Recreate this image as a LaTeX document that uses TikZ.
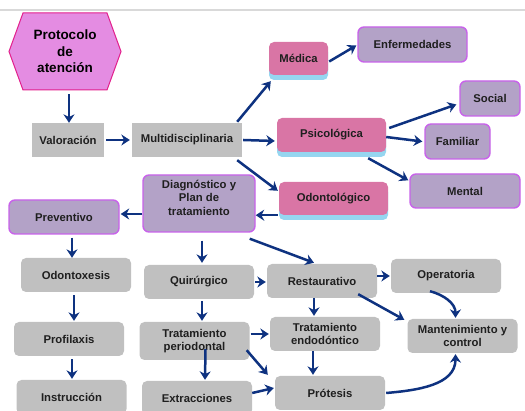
\documentclass[tikz,border=0pt]{standalone}
\usepackage{fontspec}
\setmainfont{Liberation Sans}
\usepackage{tikz}
\usetikzlibrary{arrows.meta, shapes.symbols, shadows}

\definecolor{boxgray}{RGB}{192,192,192}
\definecolor{areapink}{RGB}{217,117,165}
\definecolor{areashadow}{RGB}{150,214,240}
\definecolor{lavfill}{RGB}{179,162,199}
\definecolor{lavdraw}{RGB}{200,98,234}
\definecolor{hexfill}{RGB}{228,140,226}
\definecolor{hexdraw}{RGB}{226,32,140}
\definecolor{flow}{RGB}{14,50,128}

\begin{document}
\begin{tikzpicture}[
    x=1pt, y=-1pt,
    % Node styles
    start/.style={
        signal, signal to=west and east, signal pointer angle=140,
        minimum width=112pt, minimum height=77pt, inner sep=0pt,
        align=center, font=\fontsize{13.5}{16.5}\selectfont\bfseries,
        draw=hexdraw, line width=1pt, fill=hexfill,
    },
    plain/.style={
        rectangle, minimum height=34pt,
        align=center, font=\fontsize{11.3}{13.5}\selectfont\bfseries,
        text=black!88, fill=boxgray,
    },
    step box/.style={
        plain, rounded corners=5pt, minimum width=110pt,
    },
    area/.style={
        rectangle, rounded corners=5pt,
        minimum width=109pt, minimum height=33pt,
        align=center, font=\fontsize{11.3}{13.5}\selectfont\bfseries,
        text=black!88, fill=areapink,
        drop shadow={shadow xshift=0pt, shadow yshift=-5pt,
            fill=areashadow, opacity=1},
    },
    topic/.style={
        rectangle, rounded corners=6pt,
        minimum width=110pt, minimum height=35pt,
        align=center, font=\fontsize{11.3}{13.5}\selectfont\bfseries,
        text=black!88, draw=lavdraw, line width=1.4pt, fill=lavfill,
    },
    line/.style={
        draw=flow, line width=2.5pt, -{Stealth[length=8.5pt, width=11pt]},
    },
]
\useasboundingbox (0,0) rectangle (525,411);
\draw[black!15, line width=1.5pt] (0,10) -- (525,10);

% === Start ===
\node[start] (proto) at (65,51.5) {Protocolo\\de\\atención};

% === Assessment row ===
\node[plain, minimum width=72pt]  (valor) at (68,140)  {Valoración};
\node[plain, minimum width=110pt] (multi) at (187,140) {Multidisciplinaria};

% === Areas ===
\node[area, minimum width=59pt] (medica) at (298.5,58.5) {Médica};
\node[area, minimum height=34pt] (psico) at (331.5,135) {Psicológica};
\node[area] (odonto) at (333.5,198.5) {Odontológico};

% === Topics ===
\node[topic, minimum width=109pt] (enferm)   at (412.5,44.5) {Enfermedades};
\node[topic, minimum width=60pt]  (social)   at (490,98.5)   {Social};
\node[topic, minimum width=65pt]  (familiar) at (457.5,141.5) {Familiar};
\node[topic, minimum height=34pt] (mental)   at (465,191)    {Mental};
\node[topic, minimum width=112pt, minimum height=57pt, text depth=12pt] (diag)
    at (199,203.5) {Diagnóstico y\\Plan de\\tratamiento};
\node[topic, minimum height=34pt] (prevent)  at (64,217)     {Preventivo};

% === Preventive branch ===
\node[step box] (odontox) at (76,275)   {Odontoxesis};
\node[step box] (profil)  at (69,339)   {Profilaxis};
\node[step box] (instr)   at (71.5,397) {Instrucción};

% === Treatment branch ===
\node[step box] (quir)     at (199,282)   {Quirúrgico};
\node[step box, minimum height=38pt] (tperio) at (194.5,341)
    {Tratamiento\\periodontal};
\node[step box] (extrac)   at (197,398)   {Extracciones};
\node[step box] (restaur)  at (322,281)   {Restaurativo};
\node[step box] (operat)   at (446,276)   {Operatoria};
\node[step box] (tendo)    at (325,334)   {Tratamiento\\endodóntico};
\node[step box] (manten)   at (462.5,336) {Mantenimiento y\\control};
\node[step box] (protesis) at (330,393)   {Prótesis};

% === Edges: top ===
\draw[line] ([xshift=4pt, yshift=-4pt]proto.south) -- ([xshift=1pt]valor.north);
\draw[line] ([xshift=2pt]valor.east) -- ([xshift=-2pt]multi.west);
\draw[line] ([xshift=-5pt, yshift=1pt]multi.north east)
    -- ([xshift=2pt, yshift=-6pt]medica.south west);
\draw[line] ([xshift=1pt]multi.east) -- ([yshift=-6pt, xshift=-2pt]psico.west);
\draw[line] ([xshift=-5pt, yshift=-3pt]multi.south east)
    -- ([xshift=-1pt, yshift=-9pt]odonto.north west);
\draw[line] ([xshift=1pt, yshift=-3pt]medica.east) -- ([xshift=-1pt, yshift=-1pt]enferm.west);
\draw[line] ([xshift=3pt, yshift=7pt]psico.east) -- ([xshift=-3pt, yshift=-6pt]social.west);
\draw[line] ([yshift=-2pt]psico.east) -- ([xshift=-2pt]familiar.west);
\draw[line] ([xshift=-18pt, yshift=-6pt]psico.south east)
    -- ([xshift=-1pt, yshift=-7pt]mental.north west);
\draw[line] ([xshift=-1pt]odonto.south west) -- (odonto.south west -| diag.east);
\draw[line] ([yshift=3pt]prevent.east -| diag.west) -- ([xshift=1pt, yshift=3pt]prevent.east);

% === Edges: preventive ===
\draw[line] ([xshift=8pt, yshift=-3pt]prevent.south) -- ([xshift=-4pt]odontox.north);
\draw[line] ([xshift=-2pt, yshift=-3pt]odontox.south) -- ([xshift=5pt, yshift=1pt]profil.north);
\draw[line] ([xshift=3pt, yshift=-3pt]profil.south) -- ([xshift=0.5pt, yshift=1pt]instr.north);

% === Edges: treatment ===
\draw[line] ([xshift=3pt, yshift=-8pt]diag.south) -- ([xshift=3pt, yshift=2pt]quir.north);
\draw[line] ([xshift=-6pt, yshift=-6pt]diag.south east) -- ([xshift=-8pt, yshift=1pt]restaur.north);
\draw[line] ([xshift=1pt]quir.east) -- ([xshift=-1pt]quir.east -| restaur.west);
\draw[line] ([xshift=3pt, yshift=-2pt]quir.south) -- ([xshift=7.5pt, yshift=1pt]tperio.north);
\draw[line] ([yshift=5pt]restaur.east) -- ([xshift=-1pt]operat.west);
\draw[line] ([xshift=-8pt]restaur.south) -- ([xshift=-11pt, yshift=1pt]tendo.north);
\draw[line] ([xshift=-19pt, yshift=4pt]restaur.south east)
    -- ([xshift=-3pt, yshift=-1pt]manten.north west);
\draw[line] ([xshift=-16pt, yshift=2pt]operat.south)
    to[out=-15, in=90] ([xshift=-7pt, yshift=1pt]manten.north);
\draw[line] ([xshift=1pt]tendo.west -| tperio.east) -- ([xshift=-1pt]tendo.west);
\draw[line] ([xshift=-3pt, yshift=10pt]tperio.south east)
    -- ([xshift=-7pt, yshift=1pt]protesis.north west);
\draw[line] ([xshift=11pt, yshift=11pt]tperio.south) -- ([xshift=8pt, yshift=1pt]extrac.north);
\draw[line] ([xshift=-12pt]tendo.south) -- ([xshift=-17pt, yshift=1pt]protesis.north);
\draw[line] ([yshift=5pt]extrac.east) -- ([xshift=-1pt, yshift=5pt]protesis.west);
\draw[line] ([xshift=1pt]protesis.east)
    to[out=5, in=-90] ([xshift=-7pt, yshift=-1pt]manten.south);

\end{tikzpicture}
\end{document}
